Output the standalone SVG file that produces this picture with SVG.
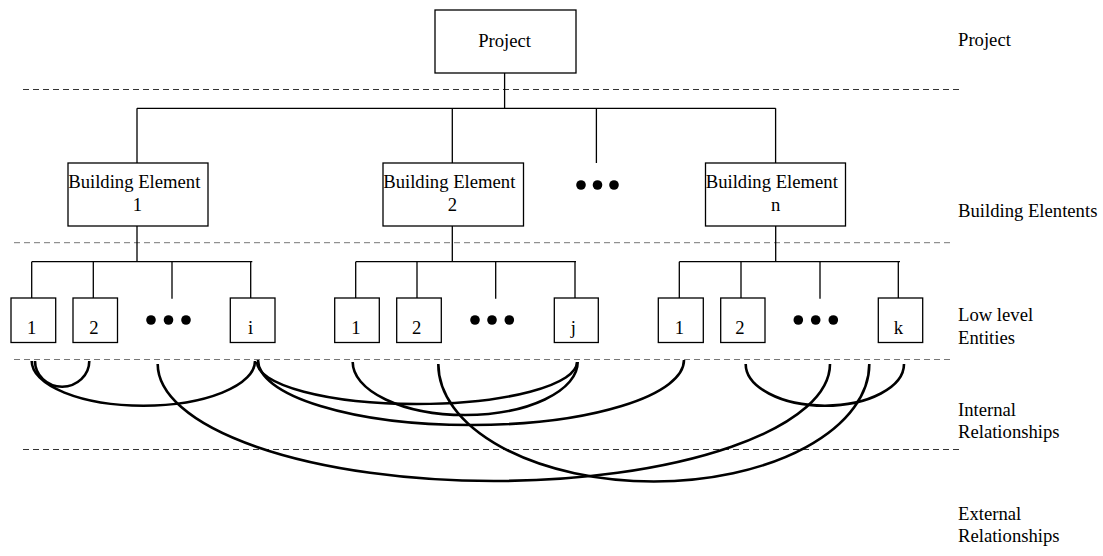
<svg xmlns="http://www.w3.org/2000/svg" width="1103" height="556" viewBox="0 0 1103 556">
<style>
  .box { fill: #fff; stroke: #000; stroke-width: 1.3; }
  .t { font-family: "Liberation Serif", "Times New Roman", serif; font-size: 18.67px; fill: #000; }
  .c { text-anchor: middle; }
  .tree { fill: none; stroke: #000; stroke-width: 1.3; }
  .rel { fill: none; stroke: #000; stroke-width: 2.6; }
  .dashA { stroke: #333; stroke-width: 1; stroke-dasharray: 6 4; }
  .dashB { stroke: #777; stroke-width: 1; stroke-dasharray: 6 4; }
  .dot { fill: #000; }
</style>

<g id="separators">
  <line class="dashA" x1="23" y1="89.5" x2="960" y2="89.5"/>
  <line class="dashB" x1="14" y1="242.7" x2="952" y2="242.7"/>
  <line class="dashB" x1="14" y1="359.5" x2="952" y2="359.5"/>
  <line class="dashA" x1="23" y1="449.5" x2="960" y2="449.5"/>
</g>

<g id="connectors">
  <path class="tree" d="M504.6 73 V108.3 M137 108.3 H775.7 M137 108.3 V163 M452.3 108.3 V163 M596.4 108.3 V163 M775.6 108.3 V163"/>
  <path class="tree" d="M137 226 V261.7 M452.3 226 V261.7 M775.7 226 V261.7"/>
  <path class="tree" d="M31.7 261.7 H252.3 M31.7 261.7 V298 M93.3 261.7 V298 M172 261.7 V298.7 M250.7 261.7 V298"/>
  <path class="tree" d="M355.7 261.7 H576 M355.7 261.7 V298 M417 261.7 V298 M495.7 261.7 V298.7 M575 261.7 V298"/>
  <path class="tree" d="M679.3 261.7 H900 M679.3 261.7 V298 M741 261.7 V298 M820 261.7 V298.7 M898.3 261.7 V298"/>
  <g id="relationships">
    <path class="rel" d="M35 361 A27.15 25.7 0 0 0 89.3 361"/>
    <path class="rel" d="M31.7 361 A111.65 44.7 0 0 0 255 361"/>
    <path class="rel" d="M157.7 364 A336.15 117 0 0 0 830 364"/>
    <path class="rel" d="M438.3 364 A215.5 117.5 0 0 0 869.3 364"/>
    <path class="rel" d="M257 362 A160 42 0 0 0 577 362"/>
    <path class="rel" d="M258 360 A213 65 0 0 0 684 360"/>
    <path class="rel" d="M352.7 362 A112.5 53 0 0 0 577.7 362"/>
    <path class="rel" d="M745.7 364 A79.15 41.7 0 0 0 904 364"/>
  </g>
</g>

<g id="project">
  <rect class="box" x="435" y="10" width="141" height="63"/>
  <text class="t c" x="504.6" y="46.5">Project</text>
</g>

<g id="be1">
  <rect class="box" x="68" y="163" width="140" height="63"/>
  <text class="t c" x="134.3" y="188.3">Building Element</text>
  <text class="t c" x="137.5" y="210.5">1</text>
</g>
<g id="be2">
  <rect class="box" x="383" y="163" width="140.5" height="63"/>
  <text class="t c" x="449.3" y="188.3">Building Element</text>
  <text class="t c" x="452.3" y="210.5">2</text>
</g>
<g id="be-dots">
  <circle class="dot" cx="581" cy="185" r="4.8"/>
  <circle class="dot" cx="597.5" cy="185" r="4.8"/>
  <circle class="dot" cx="614" cy="185" r="4.8"/>
</g>
<g id="ben">
  <rect class="box" x="705.5" y="163" width="140" height="63"/>
  <text class="t c" x="771.8" y="188.3">Building Element</text>
  <text class="t c" x="775.6" y="210.5">n</text>
</g>

<g id="g1-e1">
  <rect class="box" x="11" y="298" width="44.7" height="44.5"/>
  <text class="t c" x="31.7" y="333.5">1</text>
</g>
<g id="g1-e2">
  <rect class="box" x="73" y="298" width="44.5" height="44.5"/>
  <text class="t c" x="94" y="333.5">2</text>
</g>
<g id="g1-dots">
  <circle class="dot" cx="151" cy="320" r="4.8"/>
  <circle class="dot" cx="168.5" cy="320" r="4.8"/>
  <circle class="dot" cx="186" cy="320" r="4.8"/>
</g>
<g id="g1-ei">
  <rect class="box" x="230.3" y="298" width="44.7" height="44.5"/>
  <text class="t c" x="250.7" y="333.5">i</text>
</g>

<g id="g2-e1">
  <rect class="box" x="334.7" y="298" width="44.6" height="44.5"/>
  <text class="t c" x="356" y="333.5">1</text>
</g>
<g id="g2-e2">
  <rect class="box" x="396.7" y="298" width="44.6" height="44.5"/>
  <text class="t c" x="416.7" y="333.5">2</text>
</g>
<g id="g2-dots">
  <circle class="dot" cx="475" cy="320" r="4.8"/>
  <circle class="dot" cx="492" cy="320" r="4.8"/>
  <circle class="dot" cx="509.3" cy="320" r="4.8"/>
</g>
<g id="g2-ej">
  <rect class="box" x="554.3" y="298" width="44" height="44.5"/>
  <text class="t c" x="573.3" y="333.5">j</text>
</g>

<g id="g3-e1">
  <rect class="box" x="658.3" y="298" width="45" height="44.5"/>
  <text class="t c" x="679.3" y="333.5">1</text>
</g>
<g id="g3-e2">
  <rect class="box" x="720.7" y="298" width="44.3" height="44.5"/>
  <text class="t c" x="740" y="333.5">2</text>
</g>
<g id="g3-dots">
  <circle class="dot" cx="798.3" cy="320" r="4.8"/>
  <circle class="dot" cx="815.7" cy="320" r="4.8"/>
  <circle class="dot" cx="833.3" cy="320" r="4.8"/>
</g>
<g id="g3-ek">
  <rect class="box" x="878.3" y="298" width="44.4" height="44.5"/>
  <text class="t c" x="898.3" y="333.5">k</text>
</g>

<g id="level-labels">
  <text class="t" x="958" y="46">Project</text>
  <text class="t" x="958" y="217">Building Elentents</text>
  <text class="t" x="958" y="321">Low level</text>
  <text class="t" x="958" y="343.5">Entities</text>
  <text class="t" x="958" y="416">Internal</text>
  <text class="t" x="958" y="438">Relationships</text>
  <text class="t" x="958" y="519.5">External</text>
  <text class="t" x="958" y="541.5">Relationships</text>
</g>
</svg>
